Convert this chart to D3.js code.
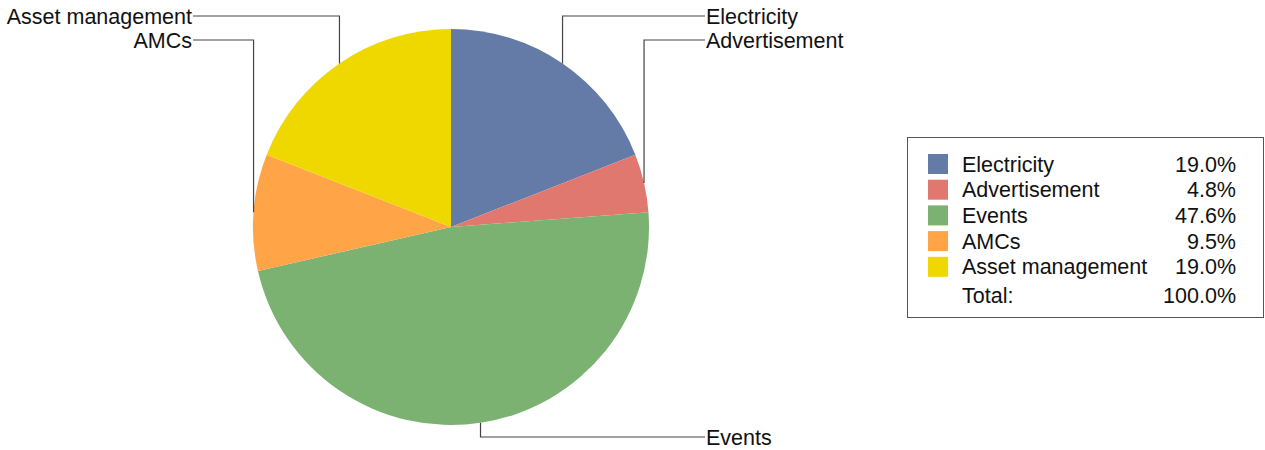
<!DOCTYPE html>
<html>
<head>
<meta charset="utf-8">
<script src="https://cdn.jsdelivr.net/npm/d3@7"></script>
<style>
  body { margin: 0; background: #fff; }
  text { font-family: "Liberation Sans", Arial, sans-serif; font-size: 21.5px; fill: #111; }
</style>
</head>
<body>
<div id="chart"></div>
<script>
const categories = ["Electricity", "Advertisement", "Events", "AMCs", "Asset management"];
const values = [4, 1, 10, 2, 4];
const colors = ["#637ba6", "#e0786f", "#7bb272", "#ffa548", "#eed800"];
// label rows for the leader lines (y of the horizontal run)
const labelY = [16, 40, 437, 40, 16];

const width = 1265, height = 450;
const cx = 451, cy = 227, radius = 198;

const svg = d3.select("#chart").append("svg")
  .attr("width", width)
  .attr("height", height);

const total = d3.sum(values);
const data = categories.map((c, i) => ({ name: c, value: values[i], color: colors[i], ly: labelY[i] }));

const pie = d3.pie().sort(null).value(d => d.value);
const arc = d3.arc().innerRadius(0).outerRadius(radius);
const arcs = pie(data);

const g = svg.append("g").attr("transform", `translate(${cx},${cy})`);

g.selectAll("path")
  .data(arcs)
  .enter()
  .append("path")
  .attr("d", arc)
  .attr("fill", d => d.data.color);

// leader lines + labels
const rightX = 705 - cx, leftX = 193 - cx;
arcs.forEach(a => {
  const mid = (a.startAngle + a.endAngle) / 2;
  const px = radius * Math.sin(mid);
  const py = -radius * Math.cos(mid);
  const right = px >= 0;
  const ly = a.data.ly - cy;
  const ex = right ? rightX : leftX;
  g.append("polyline")
    .attr("points", `${px},${py} ${px},${ly} ${ex},${ly}`)
    .attr("fill", "none")
    .attr("stroke", "#444")
    .attr("stroke-width", 1.2);
  g.append("text")
    .attr("x", right ? ex + 1 : ex - 1)
    .attr("y", ly)
    .attr("dy", "0.36em")
    .attr("text-anchor", right ? "start" : "end")
    .text(a.data.name);
});

// legend
const legend = svg.append("g").attr("transform", "translate(907,137)");
legend.append("rect")
  .attr("x", 0.5).attr("y", 0.5)
  .attr("width", 356).attr("height", 180)
  .attr("fill", "#fff")
  .attr("stroke", "#555")
  .attr("stroke-width", 1);

const rowH = 25.7;
const fmt = d3.format(".1f");
const rows = legend.selectAll("g.row")
  .data(data)
  .enter()
  .append("g")
  .attr("class", "row")
  .attr("transform", (d, i) => `translate(0,${17 + i * rowH})`);

rows.append("rect")
  .attr("x", 21).attr("y", 0)
  .attr("width", 20).attr("height", 20)
  .attr("fill", d => d.color);

rows.append("text")
  .attr("x", 55).attr("y", 17.5)
  .text(d => d.name);

rows.append("text")
  .attr("x", 329).attr("y", 17.5)
  .attr("text-anchor", "end")
  .text(d => fmt(d.value / total * 100) + "%");

const totalRow = legend.append("g").attr("transform", `translate(0,${17 + 5 * rowH + 3})`);
totalRow.append("text").attr("x", 55).attr("y", 17.5).text("Total:");
totalRow.append("text").attr("x", 329).attr("y", 17.5).attr("text-anchor", "end").text("100.0%");
</script>
</body>
</html>
